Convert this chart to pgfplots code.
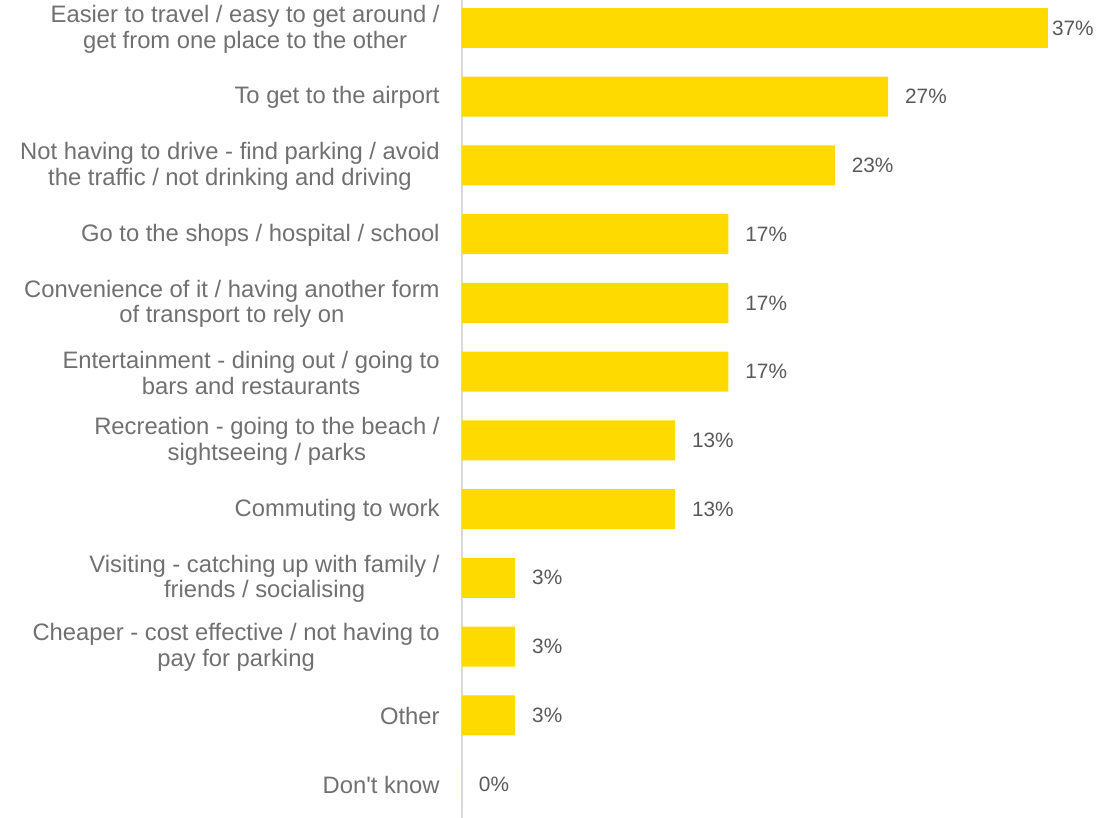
\documentclass[border=0pt]{standalone}
\usepackage{fontspec}
\setmainfont{Liberation Sans}[Ligatures=TeXOff]
\usepackage{pgfplots}
\pgfplotsset{compat=1.18}
\definecolor{baryellow}{HTML}{FFDA00}
\definecolor{labelgray}{HTML}{707070}
\definecolor{valgray}{HTML}{595959}
\definecolor{axisgray}{HTML}{D9D9D9}
\begin{document}
\begin{tikzpicture}
\begin{axis}[
  at={(0,0)}, anchor=south west,
  scale only axis, width=319.6pt, height=412.35pt,
  xbar, bar width=0.582, bar shift=0pt,
  xmin=0, xmax=40, ymin=-0.5, ymax=11.5, y dir=reverse,
  axis x line=none, axis y line*=left,
  y axis line style={draw=axisgray, line width=0.8pt, -},
  ytick={0,...,11}, major tick length=0pt, ytick style={draw=none},
  yticklabels={
    {Easier to travel / easy to get around /\\get from one place to the other},
    {To get to the airport},
    {Not having to drive - find parking / avoid\\the traffic / not drinking and driving},
    {Go to the shops / hospital / school},
    {Convenience of it / having another form\\of transport to rely on},
    {Entertainment - dining out / going to\\bars and restaurants},
    {Recreation - going to the beach /\\sightseeing  / parks},
    {Commuting to work},
    {Visiting - catching up with family  /\\friends / socialising},
    {Cheaper - cost effective / not having to\\pay for parking},
    {Other},
    {Don't know}},
  yticklabel style={align=center, font=\fontsize{11.9}{12.9}\selectfont, text=labelgray, inner xsep=0pt, xshift=-11pt, yshift=-0.5pt},
  point meta=x,
  nodes near coords={\pgfmathprintnumber[fixed,precision=0,assume math mode=true]{\pgfplotspointmeta}\%},
  nodes near coords style={anchor=west, inner xsep=0pt, font=\fontsize{10.4}{12.5}\selectfont, text=valgray},
]
\addplot[fill=baryellow, draw=none, nodes near coords style={xshift=1.85pt}] coordinates {(36.67,0)};
\addplot[fill=baryellow, draw=none, nodes near coords style={xshift=8.3pt}] coordinates {
  (26.67,1) (23.33,2) (16.67,3) (16.67,4) (16.67,5) (13.33,6) (13.33,7) (3.33,8) (3.33,9) (3.33,10) (0,11)};
\end{axis}
\pgfresetboundingbox
\path (-231pt,0.175pt) rectangle (328.5pt,409.175pt);
\end{tikzpicture}
\end{document}
